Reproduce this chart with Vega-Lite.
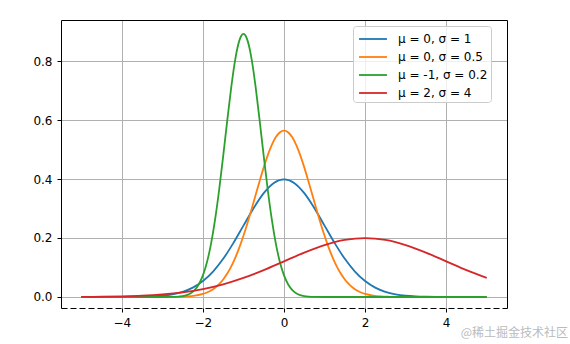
{
  "$schema": "https://vega.github.io/schema/vega-lite/v6.json",
  "width": 446,
  "height": 288,
  "autosize": {"type": "none"},
  "padding": {"left": 61, "top": 20, "right": 63, "bottom": 36},
  "background": "white",
  "config": {
    "view": {"stroke": null},
    "font": "DejaVu Sans",
    "axis": {"labelFont": "DejaVu Sans", "labelFontSize": 12, "labelColor": "black", "tickColor": "black", "tickSize": 4, "domainColor": "black", "domainWidth": 1, "gridColor": "#b0b0b0", "gridWidth": 1, "title": null}
  },
  "title": {"text": "@稀土掘金技术社区", "orient": "bottom", "anchor": "end", "dx": 61, "offset": 0, "fontSize": 12, "fontWeight": "normal", "color": "#bbbbbb", "font": "Noto Sans CJK SC"},
  "data": {"values": [
    {"x": -5, "y": 0, "s": "μ = 0, σ = 1"},
    {"x": -4.5, "y": 0, "s": "μ = 0, σ = 1"},
    {"x": -4, "y": 0.0001, "s": "μ = 0, σ = 1"},
    {"x": -3.75, "y": 0.0004, "s": "μ = 0, σ = 1"},
    {"x": -3.5, "y": 0.0009, "s": "μ = 0, σ = 1"},
    {"x": -3.25, "y": 0.002, "s": "μ = 0, σ = 1"},
    {"x": -3, "y": 0.0044, "s": "μ = 0, σ = 1"},
    {"x": -2.75, "y": 0.0091, "s": "μ = 0, σ = 1"},
    {"x": -2.5, "y": 0.0175, "s": "μ = 0, σ = 1"},
    {"x": -2.25, "y": 0.0317, "s": "μ = 0, σ = 1"},
    {"x": -2, "y": 0.054, "s": "μ = 0, σ = 1"},
    {"x": -1.75, "y": 0.0863, "s": "μ = 0, σ = 1"},
    {"x": -1.5, "y": 0.1295, "s": "μ = 0, σ = 1"},
    {"x": -1.25, "y": 0.1826, "s": "μ = 0, σ = 1"},
    {"x": -1, "y": 0.242, "s": "μ = 0, σ = 1"},
    {"x": -0.75, "y": 0.3011, "s": "μ = 0, σ = 1"},
    {"x": -0.5, "y": 0.3521, "s": "μ = 0, σ = 1"},
    {"x": -0.25, "y": 0.3867, "s": "μ = 0, σ = 1"},
    {"x": 0, "y": 0.3989, "s": "μ = 0, σ = 1"},
    {"x": 0.25, "y": 0.3867, "s": "μ = 0, σ = 1"},
    {"x": 0.5, "y": 0.3521, "s": "μ = 0, σ = 1"},
    {"x": 0.75, "y": 0.3011, "s": "μ = 0, σ = 1"},
    {"x": 1, "y": 0.242, "s": "μ = 0, σ = 1"},
    {"x": 1.25, "y": 0.1826, "s": "μ = 0, σ = 1"},
    {"x": 1.5, "y": 0.1295, "s": "μ = 0, σ = 1"},
    {"x": 1.75, "y": 0.0863, "s": "μ = 0, σ = 1"},
    {"x": 2, "y": 0.054, "s": "μ = 0, σ = 1"},
    {"x": 2.25, "y": 0.0317, "s": "μ = 0, σ = 1"},
    {"x": 2.5, "y": 0.0175, "s": "μ = 0, σ = 1"},
    {"x": 2.75, "y": 0.0091, "s": "μ = 0, σ = 1"},
    {"x": 3, "y": 0.0044, "s": "μ = 0, σ = 1"},
    {"x": 3.25, "y": 0.002, "s": "μ = 0, σ = 1"},
    {"x": 3.5, "y": 0.0009, "s": "μ = 0, σ = 1"},
    {"x": 3.75, "y": 0.0004, "s": "μ = 0, σ = 1"},
    {"x": 4, "y": 0.0001, "s": "μ = 0, σ = 1"},
    {"x": 4.5, "y": 0, "s": "μ = 0, σ = 1"},
    {"x": 5, "y": 0, "s": "μ = 0, σ = 1"},

    {"x": -5, "y": 0, "s": "μ = 0, σ = 0.5"},
    {"x": -4, "y": 0, "s": "μ = 0, σ = 0.5"},
    {"x": -3.5, "y": 0, "s": "μ = 0, σ = 0.5"},
    {"x": -3, "y": 0.0001, "s": "μ = 0, σ = 0.5"},
    {"x": -2.8, "y": 0.0002, "s": "μ = 0, σ = 0.5"},
    {"x": -2.6, "y": 0.0007, "s": "μ = 0, σ = 0.5"},
    {"x": -2.4, "y": 0.0018, "s": "μ = 0, σ = 0.5"},
    {"x": -2.2, "y": 0.0045, "s": "μ = 0, σ = 0.5"},
    {"x": -2, "y": 0.0103, "s": "μ = 0, σ = 0.5"},
    {"x": -1.9, "y": 0.0153, "s": "μ = 0, σ = 0.5"},
    {"x": -1.8, "y": 0.0221, "s": "μ = 0, σ = 0.5"},
    {"x": -1.7, "y": 0.0314, "s": "μ = 0, σ = 0.5"},
    {"x": -1.6, "y": 0.0436, "s": "μ = 0, σ = 0.5"},
    {"x": -1.5, "y": 0.0595, "s": "μ = 0, σ = 0.5"},
    {"x": -1.4, "y": 0.0795, "s": "μ = 0, σ = 0.5"},
    {"x": -1.3, "y": 0.1041, "s": "μ = 0, σ = 0.5"},
    {"x": -1.2, "y": 0.1337, "s": "μ = 0, σ = 0.5"},
    {"x": -1.1, "y": 0.1682, "s": "μ = 0, σ = 0.5"},
    {"x": -1, "y": 0.2076, "s": "μ = 0, σ = 0.5"},
    {"x": -0.9, "y": 0.251, "s": "μ = 0, σ = 0.5"},
    {"x": -0.8, "y": 0.2975, "s": "μ = 0, σ = 0.5"},
    {"x": -0.7, "y": 0.3456, "s": "μ = 0, σ = 0.5"},
    {"x": -0.6, "y": 0.3936, "s": "μ = 0, σ = 0.5"},
    {"x": -0.5, "y": 0.4394, "s": "μ = 0, σ = 0.5"},
    {"x": -0.4, "y": 0.4808, "s": "μ = 0, σ = 0.5"},
    {"x": -0.3, "y": 0.5156, "s": "μ = 0, σ = 0.5"},
    {"x": -0.2, "y": 0.5421, "s": "μ = 0, σ = 0.5"},
    {"x": -0.1, "y": 0.5586, "s": "μ = 0, σ = 0.5"},
    {"x": 0, "y": 0.5642, "s": "μ = 0, σ = 0.5"},
    {"x": 0.1, "y": 0.5586, "s": "μ = 0, σ = 0.5"},
    {"x": 0.2, "y": 0.5421, "s": "μ = 0, σ = 0.5"},
    {"x": 0.3, "y": 0.5156, "s": "μ = 0, σ = 0.5"},
    {"x": 0.4, "y": 0.4808, "s": "μ = 0, σ = 0.5"},
    {"x": 0.5, "y": 0.4394, "s": "μ = 0, σ = 0.5"},
    {"x": 0.6, "y": 0.3936, "s": "μ = 0, σ = 0.5"},
    {"x": 0.7, "y": 0.3456, "s": "μ = 0, σ = 0.5"},
    {"x": 0.8, "y": 0.2975, "s": "μ = 0, σ = 0.5"},
    {"x": 0.9, "y": 0.251, "s": "μ = 0, σ = 0.5"},
    {"x": 1, "y": 0.2076, "s": "μ = 0, σ = 0.5"},
    {"x": 1.1, "y": 0.1682, "s": "μ = 0, σ = 0.5"},
    {"x": 1.2, "y": 0.1337, "s": "μ = 0, σ = 0.5"},
    {"x": 1.3, "y": 0.1041, "s": "μ = 0, σ = 0.5"},
    {"x": 1.4, "y": 0.0795, "s": "μ = 0, σ = 0.5"},
    {"x": 1.5, "y": 0.0595, "s": "μ = 0, σ = 0.5"},
    {"x": 1.6, "y": 0.0436, "s": "μ = 0, σ = 0.5"},
    {"x": 1.7, "y": 0.0314, "s": "μ = 0, σ = 0.5"},
    {"x": 1.8, "y": 0.0221, "s": "μ = 0, σ = 0.5"},
    {"x": 1.9, "y": 0.0153, "s": "μ = 0, σ = 0.5"},
    {"x": 2, "y": 0.0103, "s": "μ = 0, σ = 0.5"},
    {"x": 2.2, "y": 0.0045, "s": "μ = 0, σ = 0.5"},
    {"x": 2.4, "y": 0.0018, "s": "μ = 0, σ = 0.5"},
    {"x": 2.6, "y": 0.0007, "s": "μ = 0, σ = 0.5"},
    {"x": 2.8, "y": 0.0002, "s": "μ = 0, σ = 0.5"},
    {"x": 3, "y": 0.0001, "s": "μ = 0, σ = 0.5"},
    {"x": 3.5, "y": 0, "s": "μ = 0, σ = 0.5"},
    {"x": 4, "y": 0, "s": "μ = 0, σ = 0.5"},
    {"x": 5, "y": 0, "s": "μ = 0, σ = 0.5"},

    {"x": -5, "y": 0, "s": "μ = -1, σ = 0.2"},
    {"x": -4, "y": 0, "s": "μ = -1, σ = 0.2"},
    {"x": -3, "y": 0, "s": "μ = -1, σ = 0.2"},
    {"x": -2.8, "y": 0.0003, "s": "μ = -1, σ = 0.2"},
    {"x": -2.6, "y": 0.0015, "s": "μ = -1, σ = 0.2"},
    {"x": -2.5, "y": 0.0032, "s": "μ = -1, σ = 0.2"},
    {"x": -2.4, "y": 0.0066, "s": "μ = -1, σ = 0.2"},
    {"x": -2.3, "y": 0.013, "s": "μ = -1, σ = 0.2"},
    {"x": -2.2, "y": 0.0244, "s": "μ = -1, σ = 0.2"},
    {"x": -2.1, "y": 0.0433, "s": "μ = -1, σ = 0.2"},
    {"x": -2, "y": 0.0732, "s": "μ = -1, σ = 0.2"},
    {"x": -1.9, "y": 0.1177, "s": "μ = -1, σ = 0.2"},
    {"x": -1.8, "y": 0.1801, "s": "μ = -1, σ = 0.2"},
    {"x": -1.7, "y": 0.2621, "s": "μ = -1, σ = 0.2"},
    {"x": -1.6, "y": 0.3627, "s": "μ = -1, σ = 0.2"},
    {"x": -1.5, "y": 0.4775, "s": "μ = -1, σ = 0.2"},
    {"x": -1.4, "y": 0.598, "s": "μ = -1, σ = 0.2"},
    {"x": -1.3, "y": 0.7123, "s": "μ = -1, σ = 0.2"},
    {"x": -1.25, "y": 0.763, "s": "μ = -1, σ = 0.2"},
    {"x": -1.2, "y": 0.8072, "s": "μ = -1, σ = 0.2"},
    {"x": -1.15, "y": 0.8433, "s": "μ = -1, σ = 0.2"},
    {"x": -1.1, "y": 0.87, "s": "μ = -1, σ = 0.2"},
    {"x": -1.05, "y": 0.8865, "s": "μ = -1, σ = 0.2"},
    {"x": -1, "y": 0.8921, "s": "μ = -1, σ = 0.2"},
    {"x": -0.95, "y": 0.8865, "s": "μ = -1, σ = 0.2"},
    {"x": -0.9, "y": 0.87, "s": "μ = -1, σ = 0.2"},
    {"x": -0.85, "y": 0.8433, "s": "μ = -1, σ = 0.2"},
    {"x": -0.8, "y": 0.8072, "s": "μ = -1, σ = 0.2"},
    {"x": -0.75, "y": 0.763, "s": "μ = -1, σ = 0.2"},
    {"x": -0.7, "y": 0.7123, "s": "μ = -1, σ = 0.2"},
    {"x": -0.6, "y": 0.598, "s": "μ = -1, σ = 0.2"},
    {"x": -0.5, "y": 0.4775, "s": "μ = -1, σ = 0.2"},
    {"x": -0.4, "y": 0.3627, "s": "μ = -1, σ = 0.2"},
    {"x": -0.3, "y": 0.2621, "s": "μ = -1, σ = 0.2"},
    {"x": -0.2, "y": 0.1801, "s": "μ = -1, σ = 0.2"},
    {"x": -0.1, "y": 0.1177, "s": "μ = -1, σ = 0.2"},
    {"x": 0, "y": 0.0732, "s": "μ = -1, σ = 0.2"},
    {"x": 0.1, "y": 0.0433, "s": "μ = -1, σ = 0.2"},
    {"x": 0.2, "y": 0.0244, "s": "μ = -1, σ = 0.2"},
    {"x": 0.3, "y": 0.013, "s": "μ = -1, σ = 0.2"},
    {"x": 0.4, "y": 0.0066, "s": "μ = -1, σ = 0.2"},
    {"x": 0.5, "y": 0.0032, "s": "μ = -1, σ = 0.2"},
    {"x": 0.6, "y": 0.0015, "s": "μ = -1, σ = 0.2"},
    {"x": 0.8, "y": 0.0003, "s": "μ = -1, σ = 0.2"},
    {"x": 1, "y": 0, "s": "μ = -1, σ = 0.2"},
    {"x": 2, "y": 0, "s": "μ = -1, σ = 0.2"},
    {"x": 3, "y": 0, "s": "μ = -1, σ = 0.2"},
    {"x": 4, "y": 0, "s": "μ = -1, σ = 0.2"},
    {"x": 5, "y": 0, "s": "μ = -1, σ = 0.2"},

    {"x": -5, "y": 0.0004, "s": "μ = 2, σ = 4"},
    {"x": -4.5, "y": 0.001, "s": "μ = 2, σ = 4"},
    {"x": -4, "y": 0.0022, "s": "μ = 2, σ = 4"},
    {"x": -3.5, "y": 0.0045, "s": "μ = 2, σ = 4"},
    {"x": -3, "y": 0.0088, "s": "μ = 2, σ = 4"},
    {"x": -2.5, "y": 0.0159, "s": "μ = 2, σ = 4"},
    {"x": -2, "y": 0.027, "s": "μ = 2, σ = 4"},
    {"x": -1.5, "y": 0.0431, "s": "μ = 2, σ = 4"},
    {"x": -1, "y": 0.0648, "s": "μ = 2, σ = 4"},
    {"x": -0.5, "y": 0.0913, "s": "μ = 2, σ = 4"},
    {"x": 0, "y": 0.121, "s": "μ = 2, σ = 4"},
    {"x": 0.5, "y": 0.1506, "s": "μ = 2, σ = 4"},
    {"x": 1, "y": 0.176, "s": "μ = 2, σ = 4"},
    {"x": 1.5, "y": 0.1933, "s": "μ = 2, σ = 4"},
    {"x": 2, "y": 0.1995, "s": "μ = 2, σ = 4"},
    {"x": 2.5, "y": 0.1933, "s": "μ = 2, σ = 4"},
    {"x": 3, "y": 0.176, "s": "μ = 2, σ = 4"},
    {"x": 3.5, "y": 0.1506, "s": "μ = 2, σ = 4"},
    {"x": 4, "y": 0.121, "s": "μ = 2, σ = 4"},
    {"x": 4.5, "y": 0.0913, "s": "μ = 2, σ = 4"},
    {"x": 5, "y": 0.0648, "s": "μ = 2, σ = 4"}
  ]},
  "layer": [
    {
      "mark": {"type": "line", "strokeWidth": 1.8, "interpolate": "monotone"},
      "encoding": {
        "x": {"field": "x", "type": "quantitative", "scale": {"domain": [-5.5, 5.5], "nice": false, "zero": false},
              "axis": {"orient": "bottom", "values": [-4, -2, 0, 2, 4], "format": "d", "grid": true, "domainDash": [6, 3], "labelPadding": 5, "labelFlush": false}},
        "y": {"field": "y", "type": "quantitative", "scale": {"domain": [-0.0373, 0.939], "nice": false, "zero": false},
              "axis": {"orient": "left", "values": [0, 0.2, 0.4, 0.6, 0.8], "format": ".1f", "grid": true, "labelPadding": 5, "labelFlush": false}},
        "color": {"field": "s", "type": "nominal", "sort": null,
                  "scale": {"domain": ["μ = 0, σ = 1", "μ = 0, σ = 0.5", "μ = -1, σ = 0.2", "μ = 2, σ = 4"], "range": ["#1f77b4", "#ff7f0e", "#2ca02c", "#d62728"]},
                  "legend": {"title": null, "orient": "none", "legendX": 292, "legendY": 6, "padding": 3, "symbolType": "M-1.55,0H1.55", "symbolSize": 324, "symbolStrokeWidth": 1.8, "symbolOffset": 7, "labelOffset": 15, "rowPadding": 2, "labelFont": "DejaVu Sans", "labelFontSize": 12, "labelColor": "black", "fillColor": "rgba(255,255,255,0.8)", "strokeColor": "#cccccc", "cornerRadius": 3}}
      }
    },
    {
      "mark": {"type": "line", "opacity": 0},
      "encoding": {
        "x": {"field": "x", "type": "quantitative", "axis": {"orient": "top", "labels": false, "ticks": false, "grid": false}},
        "y": {"field": "y", "type": "quantitative", "axis": {"orient": "right", "labels": false, "ticks": false, "grid": false}},
        "detail": {"field": "s"}
      }
    }
  ],
  "resolve": {"axis": {"x": "independent", "y": "independent"}}
}
